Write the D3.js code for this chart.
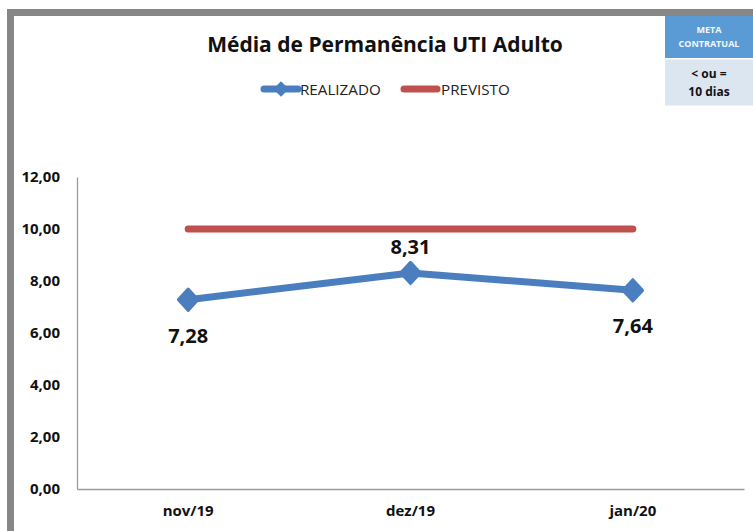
<!DOCTYPE html>
<html><head><meta charset="utf-8">
<script src="https://cdn.jsdelivr.net/npm/d3@7"></script>
<style>html,body{margin:0;padding:0;background:#fff;overflow:hidden}svg{display:block}</style>
</head><body>
<svg id="c" width="753" height="531"></svg>
<script>
const categories = ["nov/19", "dez/19", "jan/20"];
const realizado = [7.28, 8.31, 7.64];
const previsto = [10, 10, 10];
const yTicks = [0, 2, 4, 6, 8, 10, 12];
const seriesNames = ["REALIZADO", "PREVISTO"];
const metaLines = ["META", "CONTRATUAL"];
const metaValue = ["< ou =", "10 dias"];

const svg = d3.select("#c");
const font = "'Open Sans', 'Noto Sans', sans-serif";
const blue = "#4A7EBF", red = "#C0504D";

// frame
svg.append("rect").attr("x", 0).attr("y", 0).attr("width", 753).attr("height", 531).attr("fill", "#fff");
svg.append("rect").attr("x", 7).attr("y", 9).attr("width", 760).attr("height", 540)
  .attr("fill", "none").attr("stroke", "#878787").attr("stroke-width", 7)
  .attr("transform", "translate(3.5,3.5)");

const x = d3.scaleBand().domain(categories).range([77, 744]);
const y = d3.scaleLinear().domain([0, 12]).range([489, 177]);
const fmt = v => d3.format(".2f")(v).replace(".", ",");

// y axis
const ya = svg.append("g").attr("transform", "translate(77,0)")
  .call(d3.axisLeft(y).tickValues(yTicks).tickSize(0).tickPadding(17).tickFormat(fmt));
ya.select(".domain").attr("stroke", "#9a9a9a").attr("stroke-width", 1.3);
ya.selectAll("text").attr("font-family", font).attr("font-size", 15).attr("font-weight", "bold").attr("fill", "#111");

// x axis
const xa = svg.append("g").attr("transform", "translate(0,489)")
  .call(d3.axisBottom(x).tickSize(0).tickPadding(16));
xa.select(".domain").attr("stroke", "#9a9a9a").attr("stroke-width", 1.3);
xa.selectAll("text").attr("font-family", font).attr("font-size", 15).attr("font-weight", "bold").attr("fill", "#111");

const cx = d => x(d) + x.bandwidth() / 2;

// previsto line
svg.append("path").datum(previsto)
  .attr("d", d3.line().x((d, i) => cx(categories[i])).y(d => y(d)))
  .attr("fill", "none").attr("stroke", red).attr("stroke-width", 7).attr("stroke-linecap", "round");

// realizado line
svg.append("path").datum(realizado)
  .attr("d", d3.line().x((d, i) => cx(categories[i])).y(d => y(d)))
  .attr("fill", "none").attr("stroke", blue).attr("stroke-width", 7).attr("stroke-linejoin", "round");

svg.selectAll(".mk").data(realizado).join("path")
  .attr("d", d3.symbol().type(d3.symbolSquare).size(190)).attr("fill", blue)
  .attr("transform", (d, i) => `translate(${cx(categories[i])},${y(d)}) scale(1,1.08) rotate(45)`)
  .attr("stroke", blue).attr("stroke-width", 3).attr("stroke-linejoin", "round");

// data labels
const labelPos = [1, -1, 1];
svg.selectAll(".lb").data(realizado).join("text")
  .attr("x", (d, i) => cx(categories[i]))
  .attr("y", (d, i) => y(d) + (labelPos[i] > 0 ? 43 : -19))
  .attr("text-anchor", "middle").attr("font-family", font).attr("font-size", 20).attr("font-weight", "bold")
  .attr("fill", "#111").text(d => fmt(d));

// title
svg.append("text").attr("x", 385).attr("y", 52).attr("text-anchor", "middle")
  .attr("font-family", font).attr("font-size", 21).attr("font-weight", "bold").attr("fill", "#111")
  .text("Média de Permanência UTI Adulto");

// legend
const lg = svg.append("g");
lg.append("line").attr("x1", 264).attr("x2", 298).attr("y1", 89).attr("y2", 89)
  .attr("stroke", blue).attr("stroke-width", 7).attr("stroke-linecap", "round");
lg.append("path").attr("d", d3.symbol().type(d3.symbolSquare).size(120)).attr("fill", blue)
  .attr("transform", "translate(281,89) rotate(45)");
lg.append("text").attr("x", 300).attr("y", 95).attr("font-family", font).attr("font-size", 15.2)
  .attr("fill", "#222").text(seriesNames[0]);
lg.append("line").attr("x1", 404).attr("x2", 437).attr("y1", 89).attr("y2", 89)
  .attr("stroke", red).attr("stroke-width", 7).attr("stroke-linecap", "round");
lg.append("text").attr("x", 441).attr("y", 95).attr("font-family", font).attr("font-size", 15.2)
  .attr("fill", "#222").text(seriesNames[1]);

// meta box
const mb = svg.append("g");
mb.append("rect").attr("x", 665).attr("y", 16).attr("width", 88).attr("height", 42).attr("fill", "#5B9BD5");
mb.append("rect").attr("x", 665).attr("y", 58).attr("width", 88).attr("height", 1.5).attr("fill", "#fff");
mb.append("rect").attr("x", 665).attr("y", 59.5).attr("width", 88).attr("height", 46).attr("fill", "#DCE6F1");
mb.selectAll(".mt").data(metaLines).join("text")
  .attr("x", 709).attr("y", (d, i) => 33 + i * 14).attr("text-anchor", "middle")
  .attr("font-family", font).attr("font-size", 9).attr("font-weight", "bold").attr("fill", "#f4f8fc").text(d => d);
mb.selectAll(".mv").data(metaValue).join("text")
  .attr("x", 709).attr("y", (d, i) => 78 + i * 18).attr("text-anchor", "middle")
  .attr("font-family", font).attr("font-size", 12).attr("font-weight", "bold").attr("fill", "#111").text(d => d);
</script>
</body></html>
